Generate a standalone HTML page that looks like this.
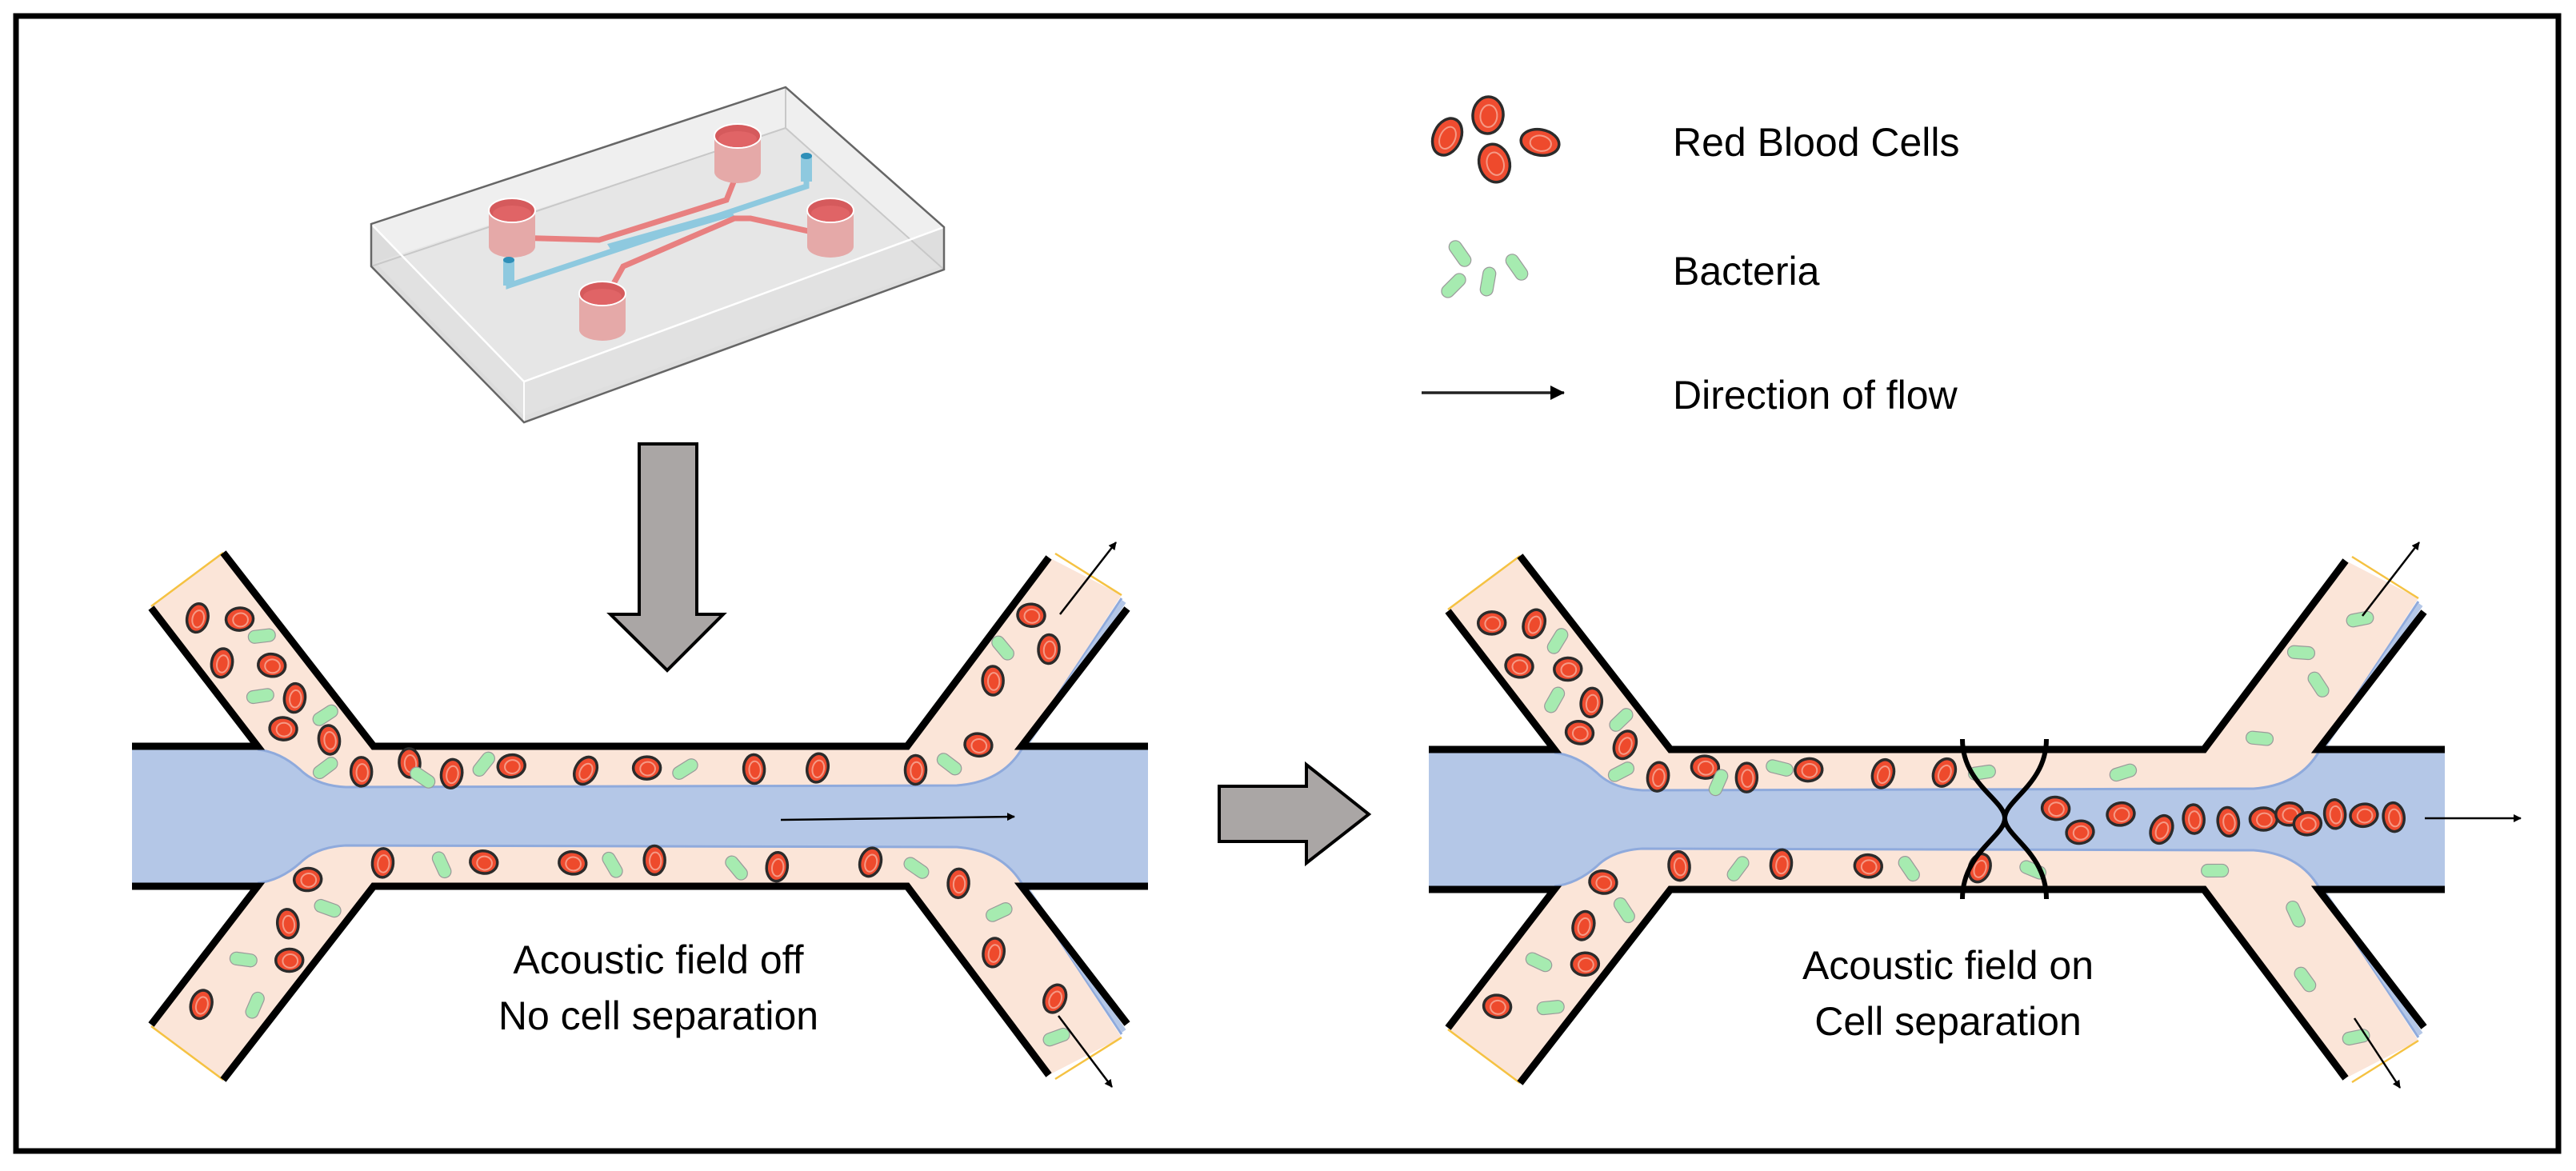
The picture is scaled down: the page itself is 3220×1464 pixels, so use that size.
<!DOCTYPE html>
<html><head><meta charset="utf-8"><style>
html,body{margin:0;padding:0;background:#fff;}
svg{display:block;}
text{font-family:"Liberation Sans",sans-serif;fill:#000;}
</style></head><body>
<svg id="s" xmlns="http://www.w3.org/2000/svg" width="3220" height="1464" viewBox="0 0 3220 1464">
<defs>
<marker id="ah" markerWidth="10" markerHeight="10" refX="9" refY="5" orient="auto" markerUnits="userSpaceOnUse" viewBox="0 0 10 10">
<path d="M0,0 L10,5 L0,10 Z" fill="#000"/></marker>
<marker id="ah2" markerWidth="18" markerHeight="18" refX="17" refY="9" orient="auto" markerUnits="userSpaceOnUse" viewBox="0 0 18 18">
<path d="M0,0 L18,9 L0,18 Z" fill="#000"/></marker>
<g id="chan">
<rect x="165" y="937" width="1270" height="167" fill="#b4c7e7"/>
<path d="M189,758 L279,691 L467,937 L1134,937 L1311,697 L1402,744 L1275,940 Q1250,978 1196,982 L432,984 Q395,982 375,962 Q350,940 322,937 Z" fill="#fbe5d8"/>
<path d="M322,937 Q350,940 375,962 Q395,982 432,984 L1196,982 Q1250,978 1275,940 L1402,748" fill="none" stroke="#8faadc" stroke-width="3"/>
<line x1="1405" y1="752" x2="1280" y2="935" stroke="#b4c7e7" stroke-width="6"/>
<g transform="matrix(1,0,0,-1,0,2041)">
<path d="M189,758 L279,691 L467,937 L1134,937 L1311,697 L1402,744 L1275,940 Q1250,978 1196,982 L432,984 Q395,982 375,962 Q350,940 322,937 Z" fill="#fbe5d8"/>
<path d="M322,937 Q350,940 375,962 Q395,982 432,984 L1196,982 Q1250,978 1275,940 L1402,748" fill="none" stroke="#8faadc" stroke-width="3"/>
<line x1="1405" y1="752" x2="1280" y2="935" stroke="#b4c7e7" stroke-width="6"/>
</g>
<line x1="189" y1="758" x2="279" y2="691" stroke="#f5c242" stroke-width="2.5"/>
<line x1="1319" y1="692" x2="1402" y2="744" stroke="#f5c242" stroke-width="2.5"/>
<line x1="189" y1="1283" x2="279" y2="1350" stroke="#f5c242" stroke-width="2.5"/>
<line x1="1319" y1="1349" x2="1402" y2="1297" stroke="#f5c242" stroke-width="2.5"/>
<g fill="none" stroke="#000" stroke-width="9" stroke-linejoin="miter">
<polyline points="189,760 322,933 165,933"/>
<polyline points="279,691 467,933 1134,933 1311,697"/>
<polyline points="1409,761 1277,933 1435,933"/>
<polyline points="189,1281 322,1108 165,1108"/>
<polyline points="279,1350 467,1108 1134,1108 1311,1344"/>
<polyline points="1409,1280 1277,1108 1435,1108"/>
</g>
</g>
</defs>
<rect x="20" y="20" width="3178" height="1419" fill="none" stroke="#000" stroke-width="7"/>

<g>
<polygon points="464,280 982,109 1180,284 655,477" fill="#efefef"/>
<polygon points="464,280 655,477 655,528 464,333" fill="#dcdcdc"/>
<polygon points="655,477 1180,284 1180,337 655,528" fill="#dedede"/>
<polygon points="469,328 982,160 1175,333 655,520" fill="#e2e2e2" opacity="0.7"/>
<polyline points="982,109 982,160 1180,337" fill="none" stroke="#c8c8c8" stroke-width="2"/>
<line x1="982" y1="160" x2="464" y2="333" stroke="#c8c8c8" stroke-width="2"/>
<polyline points="464,280 655,477 1180,284" fill="none" stroke="#fff" stroke-width="2.5"/>
<line x1="655" y1="477" x2="655" y2="528" stroke="#fff" stroke-width="2"/>
<polygon points="464,280 982,109 1180,284 1180,337 655,528 464,333" fill="none" stroke="#666" stroke-width="2.5"/>
<polyline points="1008,200 1008,233 636,357 636,330" fill="none" stroke="#8ec9df" stroke-width="7"/>
<polygon points="759,305 913,262 918,270 765,315" fill="#8ec9df"/>
<polyline points="640,297 749,300 908,250 920,220 920,200" fill="none" stroke="#e88080" stroke-width="7"/>
<polyline points="764,360 779,333 918,273 938,273 1038,295" fill="none" stroke="#e88080" stroke-width="7"/>
<g id="wells"></g>
</g>

<polygon points="799,555 871,555 871,768 904,768 834,838 763,768 799,768" fill="#aaa6a5" stroke="#000" stroke-width="4"/>
<polygon points="1524,983 1633,983 1633,956 1711,1018 1633,1079 1633,1052 1524,1052" fill="#aaa6a5" stroke="#000" stroke-width="4"/>

<use href="#chan"/>
<use href="#chan" transform="translate(1621,4)"/>

<g id="cells"></g>

<g fill="none" stroke="#000" stroke-width="6">
<path d="M2453,924 C2453,980 2506,1000 2506,1023 C2506,1046 2558,1066 2558,1124"/>
<path d="M2558,924 C2558,980 2506,1000 2506,1023 C2506,1046 2453,1066 2453,1124"/>
</g>

<g stroke="#000" stroke-width="2.5" marker-end="url(#ah)">
<line x1="976" y1="1025" x2="1268" y2="1021"/>
<line x1="1325" y1="768" x2="1395" y2="678"/>
<line x1="1323" y1="1270" x2="1390" y2="1359"/>
<line x1="3031" y1="1023" x2="3151" y2="1023"/>
<line x1="2953" y1="770" x2="3024" y2="678"/>
<line x1="2943" y1="1273" x2="3000" y2="1360"/>
</g>
<line x1="1777" y1="491" x2="1955" y2="491" stroke="#222" stroke-width="3.5" marker-end="url(#ah2)"/>

<text x="823" y="1217" font-size="50" text-anchor="middle">Acoustic field off</text>
<text x="823" y="1287" font-size="50" text-anchor="middle">No cell separation</text>
<text x="2435" y="1224" font-size="50" text-anchor="middle">Acoustic field on</text>
<text x="2435" y="1294" font-size="50" text-anchor="middle">Cell separation</text>
<text x="2091" y="195" font-size="50">Red Blood Cells</text>
<text x="2091" y="356" font-size="50">Bacteria</text>
<text x="2091" y="511" font-size="50">Direction of flow</text>
</svg>
<script>
var NS="http://www.w3.org/2000/svg";
function el(t,a,p){var e=document.createElementNS(NS,t);for(var k in a)e.setAttribute(k,a[k]);p.appendChild(e);return e;}
var cells=document.getElementById('cells');
var seed=7;function rnd(){seed=(seed*9301+49297)%233280;return seed/233280;}
function rbc(x,y,rx,ry,rot){var g=el('g',{transform:'translate('+x+','+y+') rotate('+rot+')'},cells);
el('ellipse',{cx:0,cy:0,rx:rx,ry:ry,fill:'#ef4c30',stroke:'#2b2b2b','stroke-width':3.5},g);
el('ellipse',{cx:1,cy:1,rx:rx*0.55,ry:ry*0.6,fill:'#ee4a2c',stroke:'#f59a86','stroke-width':2},g);}
function bac(x,y,l,rot){var g=el('g',{transform:'translate('+x+','+y+') rotate('+rot+')'},cells);
el('rect',{x:-l/2,y:-8,width:l,height:16,rx:8,fill:'#a6ebb0',stroke:'#9a9a9a','stroke-width':1.2},g);}
function L(zx,zy){return [zx/1.045,650+zy/2.08];}
function R(zx,zy){return [1700+zx/1.02,650+zy/2.08];}
var lr=[[258,255],[313,258],[290,372],[355,378],[385,463],[370,543],[430,572],[472,655],[535,632],[590,660],[668,640],[765,652],[845,645],[985,648],[1068,645],[1196,650],[1278,585],[1297,418],[1370,336],[1347,248],[500,892],[632,890],[748,892],[855,885],[1015,902],[1137,890],[402,935],[376,1050],[378,1145],[263,1260],[1252,945],[1298,1125],[1378,1245]];
var lb=[[342,302],[340,458],[425,508],[425,645],[552,670],[632,635],[895,648],[1240,635],[1310,333],[577,897],[800,897],[962,905],[1197,905],[428,1010],[318,1143],[333,1262],[1305,1020],[1380,1345]];
var rr=[[168,268],[222,270],[203,380],[265,388],[295,475],[280,553],[338,585],[380,668],[440,643],[493,670],[572,650],[667,660],[745,657],[887,750],[918,812],[970,765],[1022,805],[1063,778],[1107,785],[1152,778],[1185,765],[1208,790],[1243,765],[1280,768],[1318,773],[407,900],[537,895],[648,900],[790,905],[310,942],[285,1055],[287,1155],[175,1265]];
var rb=[[252,315],[248,468],[333,520],[333,655],[457,683],[535,645],[793,657],[973,657],[1147,568],[1222,428],[1200,345],[1275,258],[482,907],[700,907],[858,910],[1090,912],[337,1015],[228,1150],[243,1268],[1193,1025],[1205,1195],[1270,1345]];
function putR(list,f){list.forEach(function(p){var q=f(p[0],p[1]);var r=rnd();
if(r<0.35)rbc(q[0],q[1],17,14,-10+rnd()*20);else rbc(q[0],q[1],13,18,-10+rnd()*40);});}
function putB(list,f){list.forEach(function(p){var q=f(p[0],p[1]);bac(q[0],q[1],34,-70+rnd()*140);});}
putR(lr,L);putB(lb,L);putR(rr,R);putB(rb,R);
rbc(1860,144,19,23,5);rbc(1809,171,17,24,25);rbc(1925,178,24,16,10);rbc(1868,204,19,24,-15);
bac(1825,317,36,55);bac(1896,334,36,55);bac(1860,352,36,-80);bac(1817,357,36,-45);
var w=document.getElementById('wells');
[[922,170],[640,263],[1038,263],[753,367]].forEach(function(c){var x=c[0],y=c[1];
el('path',{d:'M'+(x-29)+','+y+' L'+(x-29)+','+(y+45)+' A29,14 0 0 0 '+(x+29)+','+(y+45)+' L'+(x+29)+','+y+' Z',fill:'#e5a9a8'},w);
el('ellipse',{cx:x,cy:y,rx:29,ry:15,fill:'#d55a5c',stroke:'#fff','stroke-width':2},w);
el('ellipse',{cx:x,cy:y+4,rx:24,ry:10,fill:'#e06466'},w);});
[[1008,195],[636,325]].forEach(function(c){el('rect',{x:c[0]-7,y:c[1],width:14,height:32,fill:'#8ec9df'},w);
el('ellipse',{cx:c[0],cy:c[1],rx:7,ry:4,fill:'#2f8fb8'},w);});
</script>
</body></html>
